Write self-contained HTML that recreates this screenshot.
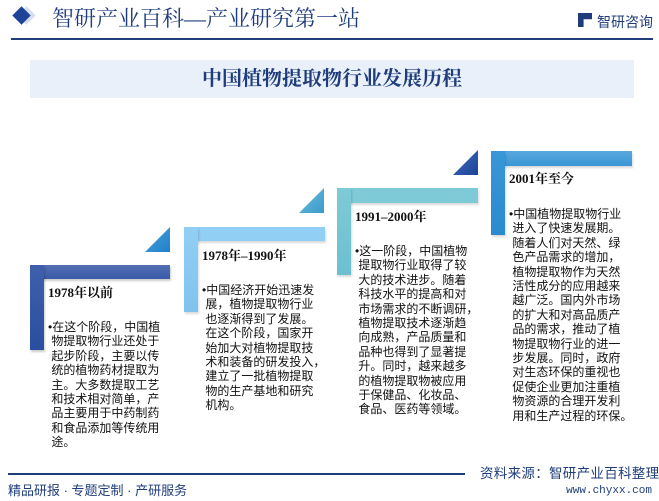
<!DOCTYPE html>
<html><head><meta charset="utf-8"><style>
body{margin:0;width:659px;height:501px;background:#fff;position:relative;overflow:hidden;font-family:"Liberation Serif","Noto Serif CJK SC",serif;}
.a{position:absolute;white-space:nowrap;}
.t{position:absolute;white-space:nowrap;font-family:"Liberation Sans","Noto Sans CJK SC",sans-serif;font-size:12px;line-height:14.4px;color:#111;}
.h{position:absolute;white-space:nowrap;font-family:"Liberation Serif","Noto Serif CJK SC",serif;font-weight:bold;font-size:13px;color:#111;}
</style></head><body>
<!-- header -->
<div class="a" style="left:20px;top:9px;width:13px;height:13px;background:#d6dff0;transform:rotate(45deg);"></div>
<div class="a" style="left:15px;top:9px;width:13px;height:13px;background:#1f4396;transform:rotate(45deg);"></div>
<div class="a" style="left:52px;top:5px;font-size:22px;color:#1f3d7a;font-family:'Liberation Serif','Noto Serif CJK SC',serif;line-height:28px;">智研产业百科—产业研究第一站</div>
<div class="a" style="left:578px;top:13px;width:14px;height:14px;background:#1f3d7a;clip-path:polygon(0 0,100% 0,100% 45%,40% 45%,40% 100%,0 100%);"></div>
<div class="a" style="left:597px;top:12px;font-size:14px;color:#1f3d7a;font-family:'Liberation Sans','Noto Sans CJK SC',sans-serif;">智研咨询</div>
<div class="a" style="left:11px;top:38px;width:642px;height:2px;background:#1f3d7a;"></div>
<div class="a" style="left:30px;top:60px;width:604px;height:38px;background:#e9f0fa;"></div>
<div class="a" style="left:30px;top:66px;width:604px;text-align:center;font-size:20px;font-weight:bold;color:#1f3d7a;line-height:26px;">中国植物提取物行业发展历程</div>

<!-- stage 1 -->
<div class="a" style="left:30px;top:265px;width:140px;height:14px;background:linear-gradient(#5470b4,#3a5aa8);box-shadow:1px 2px 2px rgba(0,0,0,.2);"></div>
<div class="a" style="left:30px;top:265px;width:14px;height:85px;background:linear-gradient(#3f5fab,#2a4f9f);box-shadow:1px 2px 2px rgba(0,0,0,.2);"></div>
<div class="a" style="left:145px;top:227px;width:25px;height:25px;background:linear-gradient(135deg,#4aa6dd,#1f7fc9);clip-path:polygon(0 100%,100% 0,100% 100%);"></div>
<div class="h" style="left:48px;top:282px;">1978年以前</div>
<div class="t" style="left:48px;top:320px;">•在这个阶段，中国植<br>&nbsp;物提取物行业还处于<br>&nbsp;起步阶段，主要以传<br>&nbsp;统的植物药材提取为<br>&nbsp;主。大多数提取工艺<br>&nbsp;和技术相对简单，产<br>&nbsp;品主要用于中药制药<br>&nbsp;和食品添加等传统用<br>&nbsp;途。</div>

<!-- stage 2 -->
<div class="a" style="left:184px;top:227px;width:141px;height:14px;background:#92cff4;box-shadow:1px 2px 2px rgba(0,0,0,.15);"></div>
<div class="a" style="left:184px;top:227px;width:14px;height:85px;background:linear-gradient(#92cff4,#7fc3ee);box-shadow:1px 2px 2px rgba(0,0,0,.15);"></div>
<div class="a" style="left:299px;top:188px;width:25px;height:25px;background:linear-gradient(135deg,#6cc0e0,#3a9ac8);clip-path:polygon(0 100%,100% 0,100% 100%);"></div>
<div class="h" style="left:202px;top:245px;">1978年–1990年</div>
<div class="t" style="left:202px;top:283px;">•中国经济开始迅速发<br>&nbsp;展，植物提取物行业<br>&nbsp;也逐渐得到了发展。<br>&nbsp;在这个阶段，国家开<br>&nbsp;始加大对植物提取技<br>&nbsp;术和装备的研发投入，<br>&nbsp;建立了一批植物提取<br>&nbsp;物的生产基地和研究<br>&nbsp;机构。</div>

<!-- stage 3 -->
<div class="a" style="left:337px;top:188px;width:141px;height:15px;background:#7ecad6;box-shadow:1px 2px 2px rgba(0,0,0,.15);"></div>
<div class="a" style="left:337px;top:188px;width:14px;height:87px;background:linear-gradient(#7ecad6,#6cc0d0);box-shadow:1px 2px 2px rgba(0,0,0,.15);"></div>
<div class="a" style="left:453px;top:150px;width:25px;height:25px;background:linear-gradient(135deg,#3f6cc0,#1f4396);clip-path:polygon(0 100%,100% 0,100% 100%);"></div>
<div class="h" style="left:355px;top:206px;">1991–2000年</div>
<div class="t" style="left:355px;top:244px;">•这一阶段，中国植物<br>&nbsp;提取物行业取得了较<br>&nbsp;大的技术进步。随着<br>&nbsp;科技水平的提高和对<br>&nbsp;市场需求的不断调研，<br>&nbsp;植物提取技术逐渐趋<br>&nbsp;向成熟，产品质量和<br>&nbsp;品种也得到了显著提<br>&nbsp;升。同时，越来越多<br>&nbsp;的植物提取物被应用<br>&nbsp;于保健品、化妆品、<br>&nbsp;食品、医药等领域。</div>

<!-- stage 4 -->
<div class="a" style="left:491px;top:151px;width:141px;height:15px;background:linear-gradient(#58a8de,#3a96d6);box-shadow:1px 2px 2px rgba(0,0,0,.15);"></div>
<div class="a" style="left:491px;top:151px;width:14px;height:84px;background:linear-gradient(#3a96d6,#2a8bd0);box-shadow:1px 2px 2px rgba(0,0,0,.15);"></div>
<div class="h" style="left:509px;top:168px;">2001年至今</div>
<div class="t" style="left:509px;top:207px;">•中国植物提取物行业<br>&nbsp;进入了快速发展期。<br>&nbsp;随着人们对天然、绿<br>&nbsp;色产品需求的增加，<br>&nbsp;植物提取物作为天然<br>&nbsp;活性成分的应用越来<br>&nbsp;越广泛。国内外市场<br>&nbsp;的扩大和对高品质产<br>&nbsp;品的需求，推动了植<br>&nbsp;物提取物行业的进一<br>&nbsp;步发展。同时，政府<br>&nbsp;对生态环保的重视也<br>&nbsp;促使企业更加注重植<br>&nbsp;物资源的合理开发利<br>&nbsp;用和生产过程的环保。</div>

<!-- footer -->
<div class="a" style="left:8px;top:473px;width:457px;height:2px;background:#1f3d7a;"></div>
<div class="a" style="left:480px;top:465px;font-size:13.5px;color:#1f3d7a;font-family:'Liberation Sans','Noto Sans CJK SC',sans-serif;line-height:18px;letter-spacing:0.3px;">资料来源：智研产业百科整理</div>
<div class="a" style="right:7px;top:485px;font-size:11px;color:#1f3d7a;font-family:'Liberation Mono',monospace;">www.chyxx.com</div>
<div class="a" style="left:8px;top:483px;font-size:13px;color:#1f3d7a;font-family:'Liberation Sans','Noto Sans CJK SC',sans-serif;line-height:16px;">精品研报 · 专题定制 · 产研服务</div>
</body></html>
